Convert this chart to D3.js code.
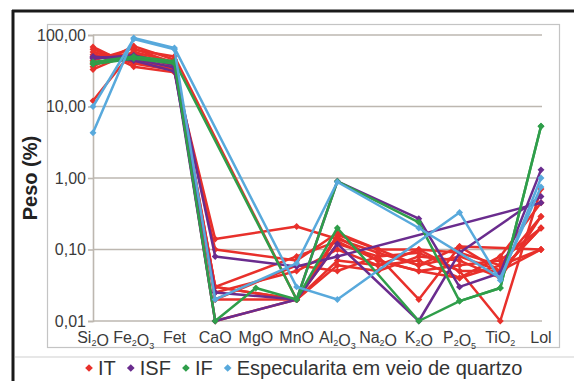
<!DOCTYPE html>
<html>
<head>
<meta charset="utf-8">
<script src="https://cdn.jsdelivr.net/npm/d3@7"></script>
<style>
  html, body { margin: 0; padding: 0; background: #fff; }
  svg { display: block; font-family: "Liberation Sans", Arial, sans-serif; }
</style>
</head>
<body>
<svg id="chart" width="574" height="381"></svg>
<script>
// digits in a category name are drawn as subscripts
const categories = ['Si2O', 'Fe2O3', 'Fet', 'CaO', 'MgO', 'MnO', 'Al2O3', 'Na2O', 'K2O', 'P2O5', 'TiO2', 'LoI'];
const categoryLabels = ['Si2O', 'Fe2O3', 'Fet', 'CaO', 'MgO', 'MnO', 'Al2O3', 'Na2O', 'K2O', 'P2O5', 'TiO2', 'Lol'];

const yTicks = [0.01, 0.1, 1, 10, 100];
const yTickLabels = ['0,01', '0,10', '1,00', '10,00', '100,00'];

// values in %, null = not analysed (line joins the neighbours)
const itSeries = [
    [12, 62, 50, null, null, 0.02, 0.15, 0.07, 0.05, 0.04, 0.06, 0.29],
    [68, 36, 30, 0.14, null, 0.21, 0.14, 0.09, 0.06, 0.11, null, 0.10],
    [63, 40, 32, 0.10, null, 0.07, 0.17, 0.10, 0.10, 0.05, 0.01, 0.70],
    [58, 42, 33, 0.03, null, 0.02, 0.12, 0.08, 0.02, 0.11, 0.05, 0.20],
    [53, 45, 35, 0.025, null, 0.05, 0.10, 0.06, 0.07, 0.04, 0.08, 0.45],
    [48, 55, 37, 0.02, null, 0.02, 0.07, 0.06, 0.10, 0.09, 0.06, 0.10],
    [44, 65, 40, 0.01, null, 0.02, 0.06, 0.05, 0.08, 0.07, 0.04, 0.29],
    [40, 50, 38, 0.03, null, 0.08, 0.13, 0.07, 0.05, 0.06, 0.07, 0.20],
    [36, 70, 45, 0.02, null, 0.06, 0.05, 0.08, 0.09, 0.05, 0.05, 0.10],
    [33, 58, 42, 0.03, null, 0.02, 0.16, 0.10, 0.06, 0.08, 0.05, 0.20],
];
const isfSeries = [
    [49, 47, 35, 0.01, null, 0.02, 0.90, null, 0.27, 0.03, 0.047, 1.30],
    [47, 52, 38, 0.08, null, 0.058, 0.08, null, null, null, null, 0.45],
    [50, 44, 31, 0.025, null, 0.02, 0.12, null, 0.01, 0.09, null, 0.55],
];
const ifSeries = [
    [39, 47, 40, 0.01, 0.029, 0.02, 0.20, null, 0.01, 0.019, 0.029, 5.3],
    [42, 50, 43, null, null, 0.02, 0.90, null, 0.24, 0.019, 0.029, 5.3],
];
const espSeries = [
    [4.3, 91, 66, null, null, 0.030, 0.020, null, null, 0.33, 0.037, 1.0],
    [10, 88, 63, 0.02, null, 0.064, 0.88, null, 0.20, null, 0.040, 0.75],
];

const legendNames = ['IT', 'ISF', 'IF', 'Especularita em veio de quartzo'];
const colors = ['#e8302b', '#6a2c8e', '#2f9e4a', '#58a9dc'];
const groups = [itSeries, isfSeries, ifSeries, espSeries];

const svg = d3.select('#chart');

// outer frame: thick black on top and left, light box round the chart
svg.append('line').attr('x1', 12).attr('x2', 574).attr('y1', 11).attr('y2', 11)
    .attr('stroke', '#1a1a1a').attr('stroke-width', 3);
svg.append('line').attr('x1', 13).attr('x2', 13).attr('y1', 10).attr('y2', 381)
    .attr('stroke', '#1a1a1a').attr('stroke-width', 3);
svg.append('rect').attr('x', 47.5).attr('y', 24.5).attr('width', 512).attr('height', 323)
    .attr('fill', 'none').attr('stroke', '#c4c4c4').attr('stroke-width', 1.2);
svg.append('line').attr('x1', 15).attr('x2', 574).attr('y1', 357).attr('y2', 357)
    .attr('stroke', '#cfcfcf').attr('stroke-width', 1);

const x = d3.scalePoint().domain(categories).range([93, 541]);
const y = d3.scaleLog().domain([0.01, 100]).range([321, 35]);

// gridlines
svg.append('g').selectAll('line').data(yTicks).join('line')
    .attr('x1', 93).attr('x2', 542)
    .attr('y1', d => y(d)).attr('y2', d => y(d))
    .attr('stroke', '#bdb7b0').attr('stroke-width', 1.6);

// y axis
const yAxis = d3.axisLeft(y).tickValues(yTicks)
    .tickFormat((d, i) => yTickLabels[i]).tickSize(5).tickPadding(2);
const gy = svg.append('g').attr('transform', 'translate(93,0)').call(yAxis);
gy.select('.domain').attr('stroke', '#bdb7b0').attr('stroke-width', 1.6);
gy.selectAll('.tick line').attr('stroke', '#bdb7b0').attr('stroke-width', 1.6);
gy.selectAll('.tick text').attr('font-size', 16).attr('fill', '#3a3a3a')
    .attr('font-family', '"Liberation Sans", Arial, sans-serif');

// x labels with subscripts
const xl = svg.append('g').selectAll('text').data(categoryLabels).join('text')
    .attr('x', (d, i) => x(categories[i])).attr('y', 343)
    .attr('text-anchor', 'middle').attr('font-size', 16).attr('fill', '#3a3a3a');
xl.each(function(d) {
    const t = d3.select(this);
    d.match(/\d+|\D+/g).forEach(part => {
        const sub = /\d/.test(part);
        t.append('tspan').text(part)
            .attr('font-size', sub ? 9 : 16)
            .attr('dy', sub ? 3 : 0);
        if (sub) t.append('tspan').text('').attr('dy', -3);
    });
});

// y title
svg.append('text').attr('transform', 'translate(37,178) rotate(-90)')
    .attr('text-anchor', 'middle').attr('font-size', 20).attr('font-weight', 'bold')
    .attr('fill', '#222').text('Peso (%)');

// series
const line = d3.line().x(d => x(categories[d.i])).y(d => y(d.v));
const diamond = d3.symbol().type(d3.symbolSquare).size(24);

groups.forEach((group, gi) => {
    const g = svg.append('g');
    group.forEach(values => {
        const pts = values.map((v, i) => ({i, v})).filter(d => d.v != null);
        g.append('path').attr('d', line(pts))
            .attr('fill', 'none').attr('stroke', colors[gi])
            .attr('stroke-width', 2.5).attr('stroke-linejoin', 'round');
        g.selectAll(null).data(pts).join('path')
            .attr('d', diamond)
            .attr('transform', d => `translate(${x(categories[d.i])},${y(d.v)}) rotate(45)`)
            .attr('fill', colors[gi]);
    });
});

// legend
const legend = svg.append('g').attr('transform', 'translate(0,375)');
let lx = 84;
legendNames.forEach((name, i) => {
    legend.append('path').attr('d', d3.symbol().type(d3.symbolSquare).size(30))
        .attr('transform', `translate(${lx + 5},-7) rotate(45)`)
        .attr('fill', colors[i]);
    const t = legend.append('text').attr('x', lx + 14).attr('y', 0)
        .attr('font-size', 20).attr('fill', '#333').text(name);
    lx += 14 + t.node().getComputedTextLength() + 10;
});
</script>
</body>
</html>
